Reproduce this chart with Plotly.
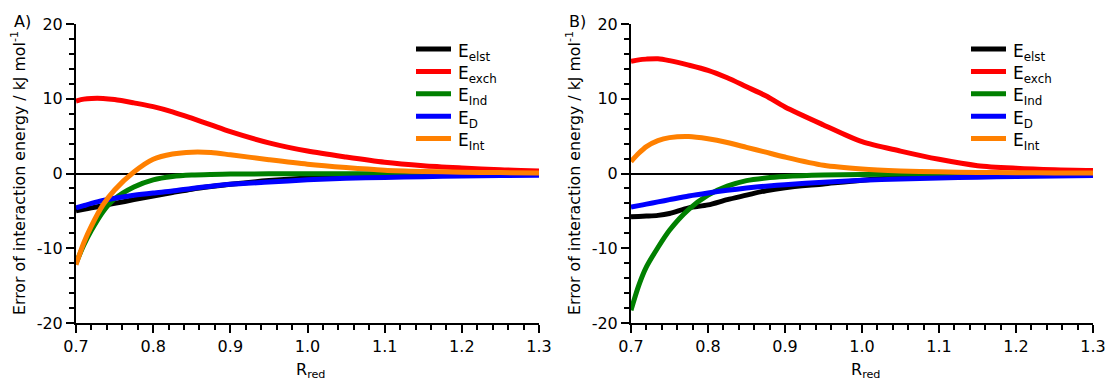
import plotly.graph_objects as go

# ---------------- data ----------------
R = [0.70, 0.71, 0.72, 0.735, 0.75, 0.775, 0.80, 0.825, 0.85, 0.875, 0.90,
     0.95, 1.00, 1.05, 1.10, 1.15, 1.20, 1.25, 1.30]

A_elst = [-5.0, -4.8, -4.6, -4.3, -4.0, -3.5, -3.0, -2.55, -2.1, -1.75, -1.45,
          -0.95, -0.6, -0.4, -0.28, -0.2, -0.14, -0.1, -0.08]
A_exch = [9.7, 9.95, 10.05, 10.05, 9.9, 9.45, 8.95, 8.25, 7.4, 6.5, 5.6,
          4.1, 3.0, 2.2, 1.5, 1.05, 0.75, 0.5, 0.35]
A_ind = [-12.0, -9.6, -7.6, -5.1, -3.4, -1.8, -0.85, -0.4, -0.2, -0.12, -0.08,
         -0.05, -0.03, -0.03, -0.03, -0.03, -0.03, -0.03, -0.03]
A_disp = [-4.6, -4.3, -4.0, -3.6, -3.3, -2.9, -2.6, -2.35, -2.0, -1.7, -1.45,
          -1.15, -0.85, -0.65, -0.52, -0.42, -0.33, -0.27, -0.22]
A_int = [-12.2, -9.3, -7.0, -4.2, -2.2, 0.2, 1.9, 2.6, 2.85, 2.8, 2.5,
         1.85, 1.25, 0.8, 0.45, 0.28, 0.18, 0.12, 0.08]

B_elst = [-5.8, -5.75, -5.7, -5.6, -5.35, -4.6, -4.2, -3.5, -2.9, -2.3, -1.9,
          -1.4, -0.9, -0.55, -0.3, -0.18, -0.1, -0.06, -0.04]
B_exch = [15.0, 15.2, 15.3, 15.35, 15.1, 14.5, 13.8, 12.8, 11.6, 10.4, 8.9,
          6.5, 4.25, 3.0, 1.9, 1.05, 0.7, 0.5, 0.4]
B_ind = [-18.3, -15.0, -12.5, -9.9, -7.6, -4.8, -2.9, -1.7, -0.95, -0.6, -0.4,
         -0.2, -0.12, -0.08, -0.05, -0.05, -0.05, -0.05, -0.05]
B_disp = [-4.5, -4.3, -4.1, -3.8, -3.5, -3.0, -2.6, -2.25, -1.95, -1.7, -1.5,
          -1.17, -0.9, -0.75, -0.6, -0.5, -0.4, -0.33, -0.28]
B_int = [1.6, 2.7, 3.6, 4.4, 4.8, 4.95, 4.65, 4.15, 3.5, 2.85, 2.2,
         1.1, 0.6, 0.35, 0.22, 0.15, 0.1, 0.08, 0.06]

SERIES_NAMES = ["E<sub>elst</sub>", "E<sub>exch</sub>", "E<sub>Ind</sub>",
                "E<sub>D</sub>", "E<sub>Int</sub>"]
SERIES_COLORS = ["#000000", "#ff0000", "#008000", "#0000ff", "#ff8000"]

X_TICKS = [0.7, 0.8, 0.9, 1.0, 1.1, 1.2, 1.3]
X_TICK_LABELS = ["0.7", "0.8", "0.9", "1.0", "1.1", "1.2", "1.3"]
Y_TICKS = [-20, -10, 0, 10, 20]
Y_TICK_LABELS = ["-20", "-10", "0", "10", "20"]

PANEL_LABELS = ["A)", "B)"]
Y_TITLE = "Error of interaction energy / kJ mol<sup>-1</sup>"
X_TITLE = "R<sub>red</sub>"

# ---------------- figure ----------------
W, H = 1107, 381
FONT = "DejaVu Sans"

fig = go.Figure()

panels = [
    ("x", "y", [A_elst, A_exch, A_ind, A_disp, A_int]),
    ("x2", "y2", [B_elst, B_exch, B_ind, B_disp, B_int]),
]
for xa, ya, series in panels:
    for name, color, vals in zip(SERIES_NAMES, SERIES_COLORS, series):
        fig.add_trace(go.Scatter(
            x=R, y=vals, mode="lines", name=name, xaxis=xa, yaxis=ya,
            line=dict(color=color, width=5, shape="spline", smoothing=0.8),
            showlegend=False,
        ))

def px_x(p):
    return p / W

def px_y(p):
    return 1 - p / H

ydom = [px_y(323), px_y(24)]
xdomA = [px_x(76), px_x(539)]
xdomB = [px_x(631), px_x(1093)]

common_x = dict(
    range=[0.7, 1.3], tickmode="array", tickvals=X_TICKS, ticktext=X_TICK_LABELS,
    showline=True, linewidth=2, linecolor="black", mirror=False,
    ticks="outside", ticklen=8, tickwidth=2, tickcolor="black",
    minor=dict(dtick=0.02, tick0=0.7, ticklen=5, tickwidth=2, tickcolor="black",
               ticks="outside", showgrid=False),
    showgrid=False, zeroline=False, automargin=False,
    tickfont=dict(family=FONT, size=16, color="black"),
)
common_y = dict(
    range=[-20, 20], tickmode="array", tickvals=Y_TICKS, ticktext=Y_TICK_LABELS,
    showline=True, linewidth=2, linecolor="black",
    ticks="outside", ticklen=8, tickwidth=2, tickcolor="black",
    minor=dict(dtick=2, tick0=0, ticklen=5, tickwidth=2, tickcolor="black",
               ticks="outside", showgrid=False),
    showgrid=False, zeroline=True, zerolinecolor="black", zerolinewidth=2,
    domain=ydom, automargin=False,
    tickfont=dict(family=FONT, size=16, color="black"),
)

fig.update_layout(
    template="none",
    width=W, height=H, autosize=False,
    margin=dict(l=0, r=0, t=0, b=0, pad=0),
    paper_bgcolor="white", plot_bgcolor="white",
    font=dict(family=FONT, size=15, color="black"),
    xaxis=dict(common_x, domain=xdomA, anchor="y"),
    yaxis=dict(common_y, anchor="x"),
    xaxis2=dict(common_x, domain=xdomB, anchor="y2"),
    yaxis2=dict(common_y, anchor="x2"),
    showlegend=False,
)

ann = []
shapes = []
for lbl, xp in zip(PANEL_LABELS, [12, 567]):
    ann.append(dict(text=lbl, x=px_x(xp), y=px_y(21), xref="paper", yref="paper",
                    xanchor="left", yanchor="middle", showarrow=False,
                    font=dict(family=FONT, size=16, color="black")))
for xc in [18, 573]:
    ann.append(dict(text=Y_TITLE, x=px_x(xc), y=px_y(173), xref="paper", yref="paper",
                    xanchor="center", yanchor="middle", textangle=-90, showarrow=False,
                    font=dict(family=FONT, size=15.8, color="black")))
for xc in [(76 + 539) / 2 + 3, (631 + 1093) / 2 + 3]:
    ann.append(dict(text=X_TITLE, x=px_x(xc), y=px_y(370), xref="paper", yref="paper",
                    xanchor="center", yanchor="middle", showarrow=False,
                    font=dict(family=FONT, size=16, color="black")))

# legends (one per panel)
for lx0 in [416, 971]:
    for i, (name, color) in enumerate(zip(SERIES_NAMES, SERIES_COLORS)):
        yc = 49 + 22.4 * i
        shapes.append(dict(type="line", xref="paper", yref="paper",
                           x0=px_x(lx0), x1=px_x(lx0 + 35), y0=px_y(yc), y1=px_y(yc),
                           line=dict(color=color, width=5)))
        ann.append(dict(text=name, x=px_x(lx0 + 40), y=px_y(yc + 3), xref="paper", yref="paper",
                        xanchor="left", yanchor="middle", showarrow=False,
                        font=dict(family=FONT, size=17, color="black")))

fig.update_layout(annotations=ann, shapes=shapes)

fig.write_html("out.html")
